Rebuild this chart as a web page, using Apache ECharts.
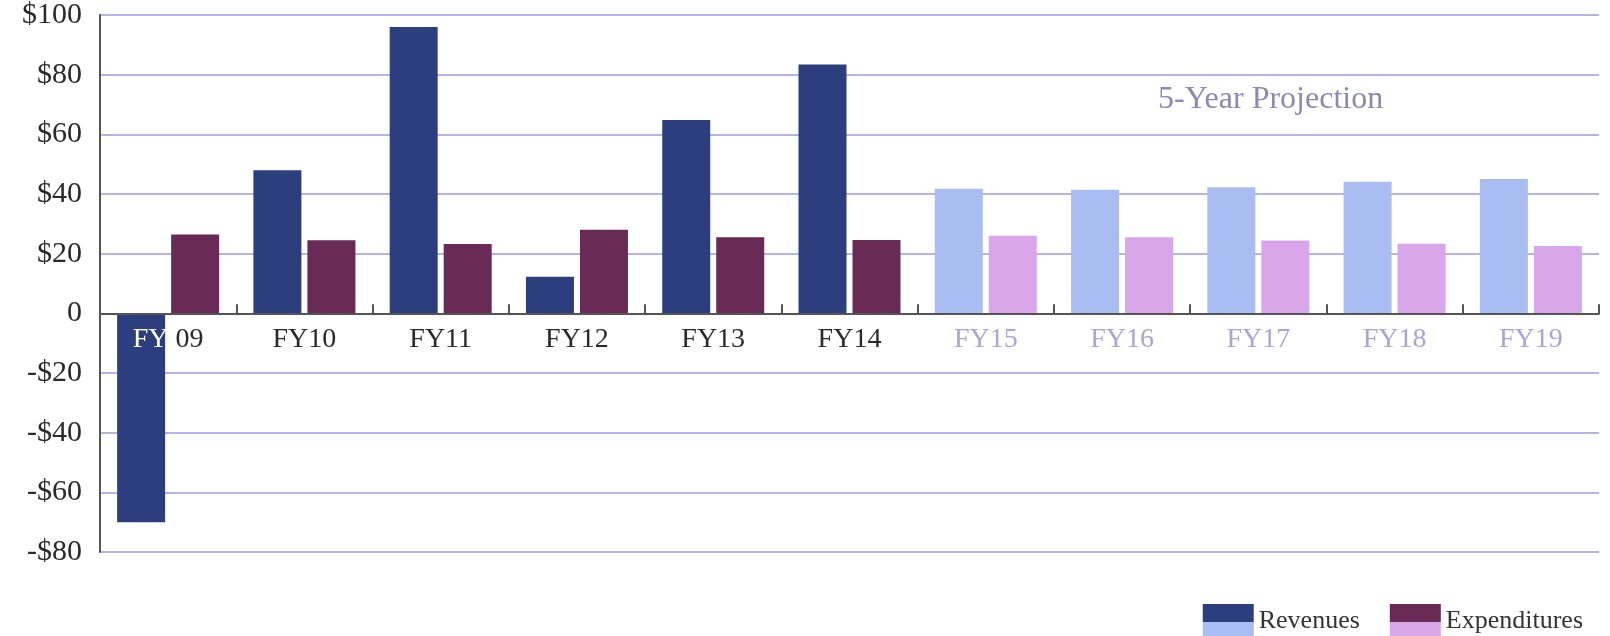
<!DOCTYPE html>
<html>
<head>
<meta charset="utf-8">
<script src="https://cdn.jsdelivr.net/npm/echarts@6/dist/echarts.min.js"></script>
<style>
html,body{margin:0;padding:0;background:#fff;}
#c{width:1610px;height:636px;}
</style>
</head>
<body>
<div id="c"></div>
<script>
const categories = ['FY09','FY10','FY11','FY12','FY13','FY14','FY15','FY16','FY17','FY18','FY19'];
const revenues = [-70, 48, 96, 12.3, 64.8, 83.4, 41.8, 41.4, 42.3, 44.1, 45.0];
const expenditures = [26.4, 24.5, 23.2, 28.0, 25.5, 24.6, 26.0, 25.5, 24.4, 23.3, 22.6];
const projectionStartIndex = 6;
const yTicks = { min: -80, max: 100, step: 20 };

const C = {
  revDark: '#2d3e7e', revLight: '#a9bdf2',
  expDark: '#6a2a56', expLight: '#d9a6e9',
  grid: '#9c9cdc', axis: '#555555',
  labelDark: '#2a2a2a', labelLight: '#aaa4da', proj: '#8a89b8'
};
const FONT = '"Liberation Serif", "DejaVu Serif", serif';

const GRID = { left: 100, right: 11, top: 15, bottom: 84 };
const plotH = 636 - GRID.top - GRID.bottom;
const zeroToBottom = plotH * (0 - yTicks.min) / (yTicks.max - yTicks.min);

function items(vals, dark, light) {
  return vals.map((v, i) => ({ value: v, itemStyle: { color: i < projectionStartIndex ? dark : light } }));
}
function twoTone(dark, light) {
  return new echarts.graphic.LinearGradient(0, 0, 0, 1, [
    { offset: 0, color: dark }, { offset: 0.5, color: dark },
    { offset: 0.5, color: light }, { offset: 1, color: light }
  ]);
}

const chart = echarts.init(document.getElementById('c'), null, { renderer: 'canvas' });
chart.setOption({
  animation: false,
  backgroundColor: '#ffffff',
  grid: Object.assign({ containLabel: false }, GRID),
  legend: {
    right: 22, top: 599,
    icon: 'rect', itemWidth: 51, itemHeight: 35, itemGap: 30,
    textStyle: { fontFamily: FONT, fontSize: 26, color: '#333' },
    data: [
      { name: 'Revenues', itemStyle: { color: twoTone(C.revDark, C.revLight) } },
      { name: 'Expenditures', itemStyle: { color: twoTone(C.expDark, C.expLight) } }
    ]
  },
  xAxis: {
    type: 'category',
    data: categories,
    z: 5,
    axisLine: { show: true, onZero: true, lineStyle: { color: C.axis, width: 2 } },
    axisTick: { show: true, inside: true, length: 9, lineStyle: { color: C.axis, width: 2 } },
    axisLabel: {
      interval: 0,
      margin: 12 - zeroToBottom,
      fontFamily: FONT, fontSize: 28,
      color: (val, idx) => idx < projectionStartIndex ? C.labelDark : C.labelLight,
      formatter: (val, idx) => idx === 0 ? '{w|' + val.slice(0, 2) + '} {d|' + val.slice(2) + '}' : val,
      rich: {
        w: { color: '#ffffff', fontFamily: FONT, fontSize: 28 },
        d: { color: C.labelDark, fontFamily: FONT, fontSize: 28 }
      }
    },
    splitLine: { show: false }
  },
  yAxis: {
    type: 'value',
    min: yTicks.min, max: yTicks.max, interval: yTicks.step,
    axisLine: { show: true, lineStyle: { color: C.axis, width: 2 } },
    axisTick: { show: false },
    axisLabel: {
      margin: 18,
      fontFamily: FONT, fontSize: 30, color: C.labelDark,
      formatter: v => v === 0 ? '0' : (v < 0 ? '-$' + Math.abs(v) : '$' + v)
    },
    splitLine: { show: true, lineStyle: { color: C.grid, width: 1.5 } }
  },
  series: [
    {
      name: 'Revenues', type: 'bar', barWidth: 48, barGap: '12.5%',
      itemStyle: { color: C.revDark },
      data: items(revenues, C.revDark, C.revLight)
    },
    {
      name: 'Expenditures', type: 'bar', barWidth: 48,
      itemStyle: { color: C.expDark },
      data: items(expenditures, C.expDark, C.expLight)
    }
  ],
  graphic: [
    {
      type: 'text', left: 1158, top: 84,
      style: { text: '5-Year Projection', fill: C.proj, font: '32px ' + FONT }
    }
  ]
});
</script>
</body>
</html>
